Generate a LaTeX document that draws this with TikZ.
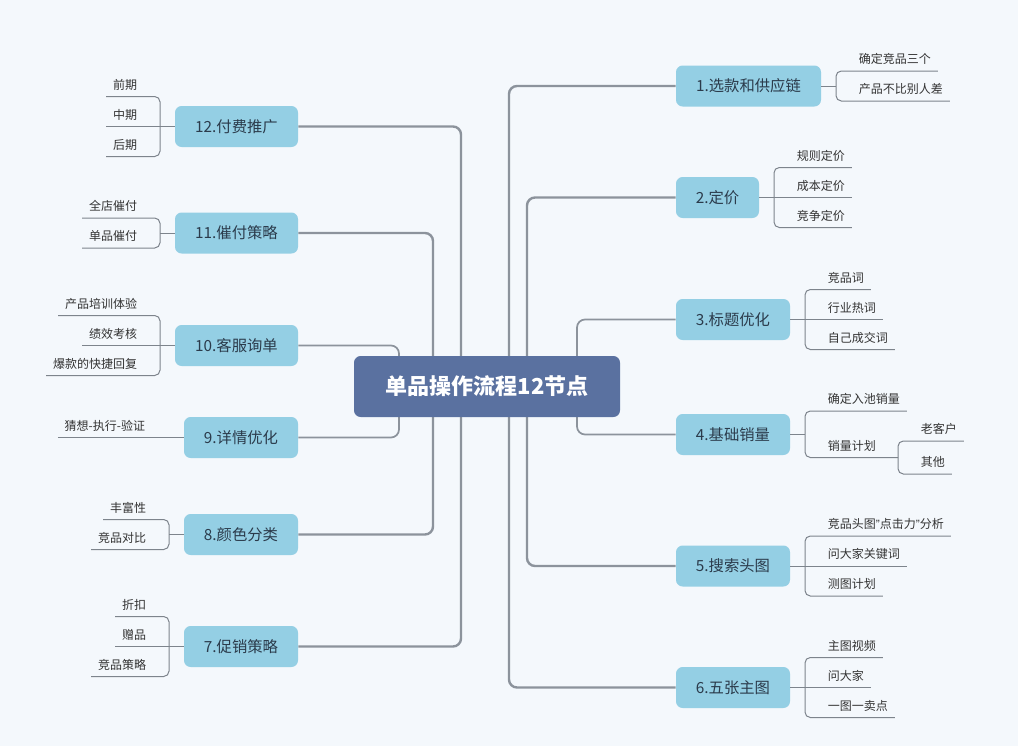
\documentclass[tikz,border=0pt]{standalone}
\usepackage{fontspec}
\setmainfont{Noto Sans CJK SC}
\newfontfamily\quotefont{Liberation Sans}
\usepackage{tikz}

\definecolor{bgblue}{HTML}{F4F8FC}
\definecolor{topicblue}{HTML}{94CFE4}
\definecolor{rootblue}{HTML}{5A71A0}
\definecolor{topictext}{HTML}{2B3B4B}
\definecolor{linegray}{HTML}{8C939C}
\definecolor{twiggray}{HTML}{7D848C}
\definecolor{leaftext}{HTML}{333333}

\tikzset{
  root/.style={fill=rootblue, text=white, rounded corners=5pt, minimum width=199.5pt, minimum height=45.75pt, inner sep=0pt, font=\bfseries\fontsize{16.5}{18}\selectfont},
  topic/.style={fill=topicblue, text=topictext, rounded corners=5pt, minimum height=30.75pt, inner sep=0pt, font=\fontsize{11.5}{13}\selectfont},
  leafr/.style={anchor=south west, inner xsep=5pt, inner ysep=4pt, text depth=1.2pt, text=leaftext, font=\fontsize{9}{10}\selectfont},
  leafl/.style={leafr, anchor=south east},
  trunk/.style={draw=linegray, line width=1.8pt, rounded corners=6pt},
  trunkin/.style={trunk, line width=1.3pt},
  twig/.style={draw=twiggray, line width=0.75pt, rounded corners=4pt},
}

\begin{document}
\begin{tikzpicture}[x=0.75pt,y=-0.75pt]
            \fill[bgblue] (0,0) rectangle (1018,746);
            \useasboundingbox (0,0) rectangle (1018,746);

            \node[topic,minimum width=92.25pt] (t12) at (236.5,126.5) {12.付费推广};
            \node[topic,minimum width=92.25pt] (t11) at (236.5,233)   {11.催付策略};
            \node[topic,minimum width=92.25pt] (t10) at (236.5,345.5) {10.客服询单};
            \node[topic,minimum width=85.5pt]  (t9)  at (241,437.5)   {9.详情优化};
            \node[topic,minimum width=85.5pt]  (t8)  at (241,534.5)   {8.颜色分类};
            \node[topic,minimum width=85.5pt]  (t7)  at (241,646.5)   {7.促销策略};

            \node[topic,minimum width=108.75pt] (t1) at (748.5,86)    {1.选款和供应链};
            \node[topic,minimum width=62.25pt]  (t2) at (717.5,197.5) {2.定价};
            \node[topic,minimum width=85.5pt]   (t3) at (733,319.5)   {3.标题优化};
            \node[topic,minimum width=85.5pt]   (t4) at (733,434.5)   {4.基础销量};
            \node[topic,minimum width=85.5pt]   (t5) at (733,566)     {5.搜索头图};
            \node[topic,minimum width=85.5pt]   (t6) at (733,687.5)   {6.五张主图};

            % leaves, left
            \node[leafl] (l12a) at (144,96.5)  {前期};
            \node[leafl] (l12b) at (144,126.5) {中期};
            \node[leafl] (l12c) at (144,156.5) {后期};
            \node[leafl] (l11a) at (144,218)   {全店催付};
            \node[leafl] (l11b) at (144,248)   {单品催付};
            \node[leafl] (l10a) at (144,315.5) {产品培训体验};
            \node[leafl] (l10b) at (144,345.5) {绩效考核};
            \node[leafl] (l10c) at (144,375.5) {爆款的快捷回复};
            \node[leafl] (l9a)  at (152,437.5) {猜想-执行-验证};
            \node[leafl] (l8a)  at (153,519.5) {丰富性};
            \node[leafl] (l8b)  at (153,549.5) {竞品对比};
            \node[leafl] (l7a)  at (153,616.5) {折扣};
            \node[leafl] (l7b)  at (153,646.5) {赠品};
            \node[leafl] (l7c)  at (153,676.5) {竞品策略};

            % leaves, right
            \node[leafr] (l1a) at (852,71)    {确定竞品三个};
            \node[leafr] (l1b) at (852,101)   {产品不比别人差};
            \node[leafr] (l2a) at (790,167.5) {规则定价};
            \node[leafr] (l2b) at (790,197.5) {成本定价};
            \node[leafr] (l2c) at (790,227.5) {竞争定价};
            \node[leafr] (l3a) at (821,289.5) {竞品词};
            \node[leafr] (l3b) at (821,319.5) {行业热词};
            \node[leafr] (l3c) at (821,349.5) {自己成交词};
            \node[leafr] (l4a) at (821,411)   {确定入池销量};
            \node[leafr] (l4b) at (821,457.5) {销量计划};
            \node[leafr] (l4c) at (914,441)   {老客户};
            \node[leafr] (l4d) at (914,474)   {其他};
            \node[leafr] (l5a) at (821,536)   {竞品头图{\quotefont ”}点击力{\quotefont ”}分析};
            \node[leafr] (l5b) at (821,566)   {问大家关键词};
            \node[leafr] (l5c) at (821,596)   {测图计划};
            \node[leafr] (l6a) at (821,657.5) {主图视频};
            \node[leafr] (l6b) at (821,687.5) {问大家};
            \node[leafr] (l6c) at (821,717.5) {一图一卖点};

            \coordinate (r12) at (461,386.5);
            \coordinate (r11) at (433,386.5);
            \coordinate (r10) at (399,386.5);
            \coordinate (r1)  at (509,386.5);
            \coordinate (r2)  at (527,386.5);
            \coordinate (r3)  at (577,386.5);

            \coordinate (k12) at (160,126.5);
            \coordinate (k11) at (160,233);
            \coordinate (k10) at (160,345.5);
            \coordinate (k8)  at (169,534.5);
            \coordinate (k7)  at (169,646.5);
            \coordinate (k1)  at (836,86);
            \coordinate (k2)  at (774,197.5);
            \coordinate (k3)  at (805,319.5);
            \coordinate (k4)  at (805,434.5);
            \coordinate (k4b) at (898,457.5);
            \coordinate (k5)  at (805,566);
            \coordinate (k6)  at (805,687.5);

            \draw[trunk]   (r12) |- (t12.east);
            \draw[trunk]   (r12) |- (t7.east);
            \draw[trunk]   (r11) |- (t11.east);
            \draw[trunk]   (r11) |- (t8.east);
            \draw[trunkin] (r10) |- (t10.east);
            \draw[trunkin] (r10) |- (t9.east);
            \draw[trunk]   (r1) |- (t1.west);
            \draw[trunk]   (r1) |- (t6.west);
            \draw[trunk]   (r2) |- (t2.west);
            \draw[trunk]   (r2) |- (t5.west);
            \draw[trunkin] (r3) |- (t3.west);
            \draw[trunkin] (r3) |- (t4.west);

            \draw[twig] (l12a.south west) -- (l12a.south -| k12) -- (l12c.south -| k12) -- (l12c.south west);
            \draw[twig] (l12b.south west) -- (t12.west);
            \draw[twig] (t11.west) -- (k11);
            \draw[twig] (l11a.south west) -- (l11a.south -| k11) -- (l11b.south -| k11) -- (l11b.south west);
            \draw[twig] (l10a.south west) -- (l10a.south -| k10) -- (l10c.south -| k10) -- (l10c.south west);
            \draw[twig] (l10b.south west) -- (t10.west);
            \draw[twig] (l9a.south west) -- (t9.west);
            \draw[twig] (t8.west) -- (k8);
            \draw[twig] (l8a.south west) -- (l8a.south -| k8) -- (l8b.south -| k8) -- (l8b.south west);
            \draw[twig] (l7a.south west) -- (l7a.south -| k7) -- (l7c.south -| k7) -- (l7c.south west);
            \draw[twig] (l7b.south west) -- (t7.west);

            \draw[twig] (t1.east) -- (k1);
            \draw[twig] (l1a.south east) -- (l1a.south -| k1) -- (l1b.south -| k1) -- (l1b.south east);
            \draw[twig] (l2a.south east) -- (l2a.south -| k2) -- (l2c.south -| k2) -- (l2c.south east);
            \draw[twig] (l2b.south east) -- (t2.east);
            \draw[twig] (l3a.south east) -- (l3a.south -| k3) -- (l3c.south -| k3) -- (l3c.south east);
            \draw[twig] (l3b.south east) -- (t3.east);
            \draw[twig] (t4.east) -- (k4);
            \draw[twig] (l4a.south east) -- (l4a.south -| k4) -- (l4b.south -| k4) -- (l4b.south east) -- (k4b);
            \draw[twig] (l4c.south east) -- (l4c.south -| k4b) -- (l4d.south -| k4b) -- (l4d.south east);
            \draw[twig] (l5a.south east) -- (l5a.south -| k5) -- (l5c.south -| k5) -- (l5c.south east);
            \draw[twig] (l5b.south east) -- (t5.east);
            \draw[twig] (l6a.south east) -- (l6a.south -| k6) -- (l6c.south -| k6) -- (l6c.south east);
            \draw[twig] (l6b.south east) -- (t6.east);

            \node[root] (root) at (487,386.5) {单品操作流程12节点};
        \end{tikzpicture}
\end{document}
